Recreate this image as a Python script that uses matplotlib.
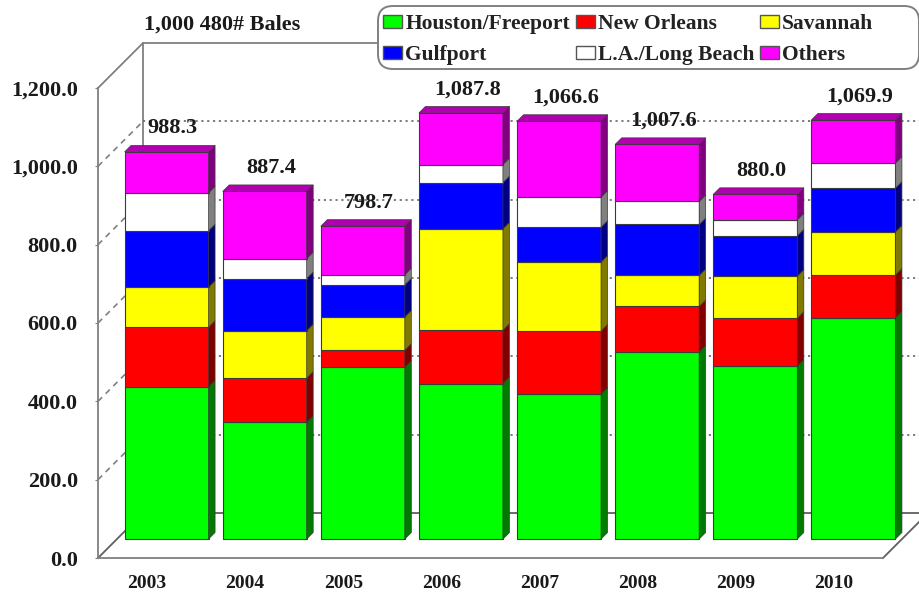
import matplotlib
matplotlib.use("Agg")
import matplotlib.pyplot as plt
from matplotlib.patches import Patch, FancyBboxPatch
from matplotlib.transforms import IdentityTransform
import numpy as np

years = ["2003", "2004", "2005", "2006", "2007", "2008", "2009", "2010"]
houston = [388, 298, 438, 397, 370, 477, 441, 564]
new_orleans = [153, 113, 44, 136, 161, 117, 123, 110]
savannah = [102, 121, 85, 259, 176, 79, 107, 110]
gulfport = [144, 133, 82, 118, 89, 130, 103, 112]
la_long_beach = [97, 51, 26, 46, 77, 59, 41, 64]
others = [104.3, 171.4, 123.7, 131.8, 193.6, 145.6, 65.0, 109.9]
totals = [988.3, 887.4, 798.7, 1087.8, 1066.6, 1007.6, 880.0, 1069.9]
series_names = ["Houston/Freeport", "New Orleans", "Savannah", "Gulfport", "L.A./Long Beach", "Others"]
series_values = [houston, new_orleans, savannah, gulfport, la_long_beach, others]
face_colors = ["#00FF00", "#FF0000", "#FFFF00", "#0000FF", "#FFFFFF", "#FF00FF"]
side_colors = ["#007A00", "#800000", "#807A00", "#000080", "#808080", "#800080"]
y_ticks = [0, 200, 400, 600, 800, 1000, 1200]

W, H = 920, 592
FONT = "Liberation Serif"
GREY = "#808080"
EDGE = "#3a3a3a"
TEXT = "#1a1a1a"

fig = plt.figure(figsize=(W / 100, H / 100), dpi=100, facecolor="white")
L, R, B, T = 98, 883, 558, 88
ax = fig.add_axes([L / W, 1 - B / H, (R - L) / W, (B - T) / H])
ax.set_xlim(-0.5, 7.5)
ax.set_ylim(0, 1200)
ax.patch.set_alpha(0)

px_x = 8 / (R - L)          # category units per pixel
px_y = 1200 / (B - T)       # value units per pixel

# walls and floor
wall_dx, wall_dy = 45 * px_x, 45 * px_y
x0, x1 = -0.5, 7.5
line = dict(color=GREY, lw=1.3, clip_on=False, zorder=1)
ax.plot([x0, x0 + wall_dx, x0 + wall_dx], [1200, 1200 + wall_dy, wall_dy], **line)
ax.plot([x0 + wall_dx, x1 + wall_dx], [1200 + wall_dy] * 2, **line)
ax.plot([x0, x0 + wall_dx, x1 + wall_dx, x1], [0, wall_dy, wall_dy, 0], color="#606060", lw=1.3, clip_on=False, zorder=1)
for v in y_ticks[1:-1]:
    ax.plot([x0, x0 + wall_dx], [v, v + wall_dy], color=GREY, lw=1.2, ls=(0, (3.5, 3)), clip_on=False, zorder=1)
    ax.plot([x0 + wall_dx, x1 + wall_dx], [v + wall_dy] * 2, color="#666666", lw=1.2, ls=(0, (1.3, 2.2)), clip_on=False, zorder=1)

# bars
x = np.arange(len(years))
bar_w = 84 * px_x
shift_x = 19.5 * px_x
base = 19 * px_y
dep_x, dep_y = 6.5 * px_x, 6.5 * px_y
cx = x + shift_x
bottom = np.full(len(years), base, dtype=float)
for vals, fc, sc, name in zip(series_values, face_colors, side_colors, series_names):
    vals = np.array(vals, dtype=float)
    ax.bar(cx, vals, bar_w, bottom=bottom, color=fc, edgecolor=EDGE, lw=0.8, zorder=3, clip_on=False)
    for xi, b, v in zip(cx, bottom, vals):
        xr = xi + bar_w / 2
        ax.fill([xr, xr + dep_x, xr + dep_x, xr], [b, b + dep_y, b + v + dep_y, b + v],
                facecolor=sc, edgecolor=EDGE, lw=0.5, zorder=3, clip_on=False)
    bottom = bottom + vals

for xi, t, total in zip(cx, bottom, totals):
    xl, xr = xi - bar_w / 2, xi + bar_w / 2
    ax.fill([xl, xl + dep_x, xr + dep_x, xr], [t, t + dep_y, t + dep_y, t],
            facecolor="#B000B0", edgecolor=EDGE, lw=0.5, zorder=3, clip_on=False)
    ax.annotate(f"{total:,.1f}", (xi, t), xytext=(4.5, 17.0), textcoords="offset points",
                ha="center", va="center", fontfamily=FONT, fontweight="bold", fontsize=16,
                color=TEXT, zorder=4, annotation_clip=False)

# axes
for s in ("top", "right"):
    ax.spines[s].set_visible(False)
for s in ("left", "bottom"):
    ax.spines[s].set_color(GREY)
    ax.spines[s].set_linewidth(1.3)
ax.set_xticks(x, years)
ax.set_yticks(y_ticks, [f"{v:,.1f}" for v in y_ticks])
ax.tick_params(axis="y", length=2, color=GREY, pad=12.5)
ax.tick_params(axis="x", length=0, pad=12.5)
for t in ax.get_yticklabels():
    t.set(fontfamily=FONT, fontweight="bold", fontsize=16, color=TEXT)
for t in ax.get_xticklabels():
    t.set(fontfamily=FONT, fontweight="bold", fontsize=14, color=TEXT)

fig.text(144 / W, 1 - 25 / H, "1,000 480# Bales", ha="left", va="center",
         fontfamily=FONT, fontweight="bold", fontsize=16, color=TEXT)

# legend frame runs to the picture's right edge, wider than the entries
frame = FancyBboxPatch((378, H - 69), 541, 63, boxstyle="round,pad=0,rounding_size=15",
                       facecolor="white", edgecolor=GREY, lw=1.4, transform=IdentityTransform(),
                       zorder=9)
fig.add_artist(frame)

order = [0, 3, 1, 4, 2, 5]
handles = [Patch(facecolor=face_colors[i], edgecolor="#555555", lw=1.0, label=series_names[i]) for i in order]
leg = fig.legend(handles=handles, ncol=3, loc="upper left",
                 bbox_to_anchor=(377 / W, 1 - 8 / H), bbox_transform=fig.transFigure,
                 prop={"family": FONT, "weight": "bold", "size": 15.5},
                 frameon=False,
                 borderpad=0.29, labelspacing=0.5, handlelength=0.88, handleheight=0.6,
                 handletextpad=0.14, columnspacing=0.28, borderaxespad=0)
for t in leg.get_texts():
    t.set_color("#222222")
leg.set_zorder(10)

fig.savefig("out.png", dpi=100)
